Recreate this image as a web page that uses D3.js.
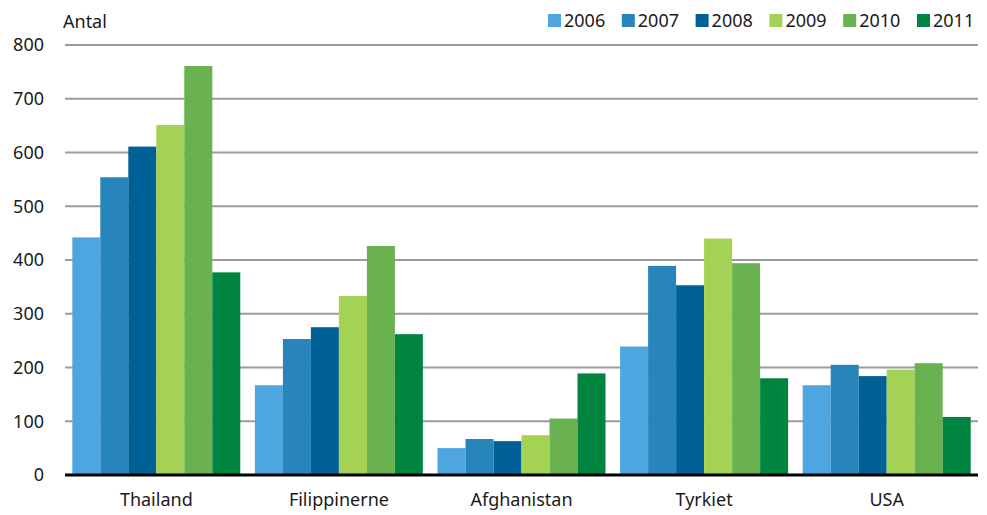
<!DOCTYPE html>
<html>
<head>
<meta charset="utf-8">
<script src="https://cdn.jsdelivr.net/npm/d3@7"></script>
<style>
  body { margin: 0; background: #fff; }
  text { font-family: "Noto Sans", sans-serif; fill: #1a1a1a; }
</style>
</head>
<body>
<svg id="chart" width="987" height="515"></svg>
<script>
var categories = ["Thailand", "Filippinerne", "Afghanistan", "Tyrkiet", "USA"];
var years = ["2006", "2007", "2008", "2009", "2010", "2011"];
var colors = ["#4da6df", "#2785bb", "#006196", "#a3d255", "#6ab14f", "#008540"];

// one array per year, values in category order
var v2006 = [442, 167, 50, 239, 167];
var v2007 = [554, 253, 67, 389, 205];
var v2008 = [611, 275, 63, 353, 184];
var v2009 = [651, 333, 74, 440, 196];
var v2010 = [761, 426, 105, 394, 208];
var v2011 = [377, 262, 189, 180, 108];
var series = [v2006, v2007, v2008, v2009, v2010, v2011];

var yTicks = [0, 100, 200, 300, 400, 500, 600, 700, 800];

var svg = d3.select("#chart");
var margin = {left: 65, right: 9, top: 45, bottom: 40};
var width = 987 - margin.left - margin.right;
var height = 515 - margin.top - margin.bottom;

var g = svg.append("g")
  .attr("transform", "translate(" + margin.left + "," + margin.top + ")");

var x0 = d3.scaleBand()
  .domain(categories)
  .range([0, width])
  .paddingInner(0.08)
  .paddingOuter(0.04);

var x1 = d3.scaleBand()
  .domain(years)
  .range([0, x0.bandwidth()]);

var y = d3.scaleLinear()
  .domain([0, 800])
  .range([height, 0]);

// gridlines
g.selectAll("line.grid")
  .data(yTicks.filter(function(d) { return d > 0; }))
  .enter().append("line")
  .attr("class", "grid")
  .attr("x1", 0)
  .attr("x2", width)
  .attr("y1", function(d) { return y(d); })
  .attr("y2", function(d) { return y(d); })
  .attr("stroke", "#9b9b9b")
  .attr("stroke-width", 2);

// y tick labels
g.selectAll("text.ytick")
  .data(yTicks)
  .enter().append("text")
  .attr("class", "ytick")
  .attr("x", -21)
  .attr("y", function(d) { return y(d); })
  .attr("dy", "0.35em")
  .attr("text-anchor", "end")
  .attr("font-size", 18)
  .text(function(d) { return d; });

// bars
var groups = g.selectAll("g.cat")
  .data(categories)
  .enter().append("g")
  .attr("class", "cat")
  .attr("transform", function(d) { return "translate(" + x0(d) + ",0)"; });

groups.selectAll("rect")
  .data(function(d, ci) {
    return years.map(function(yr, si) { return {year: yr, i: si, value: series[si][ci]}; });
  })
  .enter().append("rect")
  .attr("x", function(d) { return x1(d.year); })
  .attr("y", function(d) { return y(d.value); })
  .attr("width", x1.bandwidth())
  .attr("height", function(d) { return height - y(d.value); })
  .attr("fill", function(d) { return colors[d.i]; });

// baseline
g.append("line")
  .attr("x1", 0)
  .attr("x2", width)
  .attr("y1", height)
  .attr("y2", height)
  .attr("stroke", "#000")
  .attr("stroke-width", 3);

// category labels
g.selectAll("text.cat")
  .data(categories)
  .enter().append("text")
  .attr("class", "cat")
  .attr("x", function(d) { return x0(d) + x0.bandwidth() / 2; })
  .attr("y", height + 31)
  .attr("text-anchor", "middle")
  .attr("font-size", 18)
  .text(function(d) { return d; });

// axis title
svg.append("text")
  .attr("x", 63)
  .attr("y", 28)
  .attr("font-size", 18)
  .text("Antal");

// legend
var legend = svg.selectAll("g.legend")
  .data(years)
  .enter().append("g")
  .attr("class", "legend")
  .attr("transform", function(d, i) { return "translate(" + (548 + i * 73.8) + ",14)"; });

legend.append("rect")
  .attr("width", 13)
  .attr("height", 13)
  .attr("fill", function(d, i) { return colors[i]; });

legend.append("text")
  .attr("x", 16)
  .attr("y", 13)
  .attr("font-size", 18)
  .text(function(d) { return d; });
</script>
</body>
</html>
